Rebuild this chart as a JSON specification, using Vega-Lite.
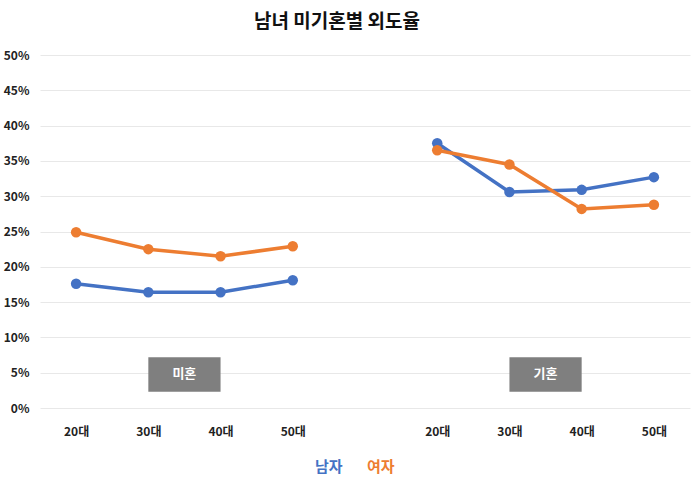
{
  "$schema": "https://vega.github.io/schema/vega-lite/v6.json",
  "width": 650,
  "height": 353,
  "autosize": "none",
  "padding": {"left": 40, "top": 55, "right": 10, "bottom": 79},
  "background": "white",
  "title": {
    "text": "남녀 미기혼별 외도율",
    "fontSize": 19,
    "fontWeight": "bold",
    "color": "#111111",
    "offset": 17,
    "dx": -28
  },
  "config": {
    "font": "Noto Sans CJK KR",
    "view": {"stroke": null},
    "axis": {
      "domain": false,
      "ticks": false,
      "labelFontWeight": "bold",
      "labelFontSize": 12,
      "labelColor": "#222222",
      "gridColor": "#e8e8e8",
      "title": null
    }
  },
  "data": {
    "values": [
      {"status": "미혼", "slot": "미혼 20대", "sex": "남자", "rate": 17.6},
      {"status": "미혼", "slot": "미혼 30대", "sex": "남자", "rate": 16.4},
      {"status": "미혼", "slot": "미혼 40대", "sex": "남자", "rate": 16.4},
      {"status": "미혼", "slot": "미혼 50대", "sex": "남자", "rate": 18.1},
      {"status": "미혼", "slot": "미혼 20대", "sex": "여자", "rate": 24.9},
      {"status": "미혼", "slot": "미혼 30대", "sex": "여자", "rate": 22.5},
      {"status": "미혼", "slot": "미혼 40대", "sex": "여자", "rate": 21.5},
      {"status": "미혼", "slot": "미혼 50대", "sex": "여자", "rate": 22.9},
      {"status": "기혼", "slot": "기혼 20대", "sex": "남자", "rate": 37.5},
      {"status": "기혼", "slot": "기혼 30대", "sex": "남자", "rate": 30.6},
      {"status": "기혼", "slot": "기혼 40대", "sex": "남자", "rate": 30.9},
      {"status": "기혼", "slot": "기혼 50대", "sex": "남자", "rate": 32.7},
      {"status": "기혼", "slot": "기혼 20대", "sex": "여자", "rate": 36.5},
      {"status": "기혼", "slot": "기혼 30대", "sex": "여자", "rate": 34.5},
      {"status": "기혼", "slot": "기혼 40대", "sex": "여자", "rate": 28.2},
      {"status": "기혼", "slot": "기혼 50대", "sex": "여자", "rate": 28.8}
    ]
  },
  "encoding": {
    "y": {
      "type": "quantitative",
      "scale": {"domain": [0, 50], "nice": false},
      "axis": {
        "values": [0, 5, 10, 15, 20, 25, 30, 35, 40, 45, 50],
        "labelExpr": "datum.value + '%'",
        "labelPadding": 11,
        "labelOverlap": false
      }
    }
  },
  "layer": [
    {
      "data": {
        "values": [
          {"label": "미혼", "from": "미혼 30대", "to": "미혼 40대", "lo": 2.3, "hi": 7.2},
          {"label": "기혼", "from": "기혼 30대", "to": "기혼 40대", "lo": 2.3, "hi": 7.2}
        ]
      },
      "mark": {"type": "rect", "color": "#7f7f7f"},
      "encoding": {
        "x": {
          "field": "from",
          "type": "nominal",
          "sort": null,
          "scale": {
            "type": "point",
            "domain": ["미혼 20대", "미혼 30대", "미혼 40대", "미혼 50대", "gap", "기혼 20대", "기혼 30대", "기혼 40대", "기혼 50대"],
            "padding": 0.5
          },
          "axis": {
            "labelAngle": 0,
            "labelPadding": 18,
            "labelExpr": "indexof(datum.label, ' ') > 0 ? split(datum.label, ' ')[1] : ''"
          }
        },
        "x2": {"field": "to"},
        "y": {"field": "lo"},
        "y2": {"field": "hi"}
      }
    },
    {
      "data": {
        "values": [
          {"label": "미혼", "from": "미혼 30대", "mid": 4.75},
          {"label": "기혼", "from": "기혼 30대", "mid": 4.75}
        ]
      },
      "mark": {"type": "text", "color": "white", "fontWeight": "bold", "fontSize": 13, "dx": 36},
      "encoding": {
        "x": {"field": "from", "type": "nominal"},
        "y": {"field": "mid"},
        "text": {"field": "label"}
      }
    },
    {
      "mark": {"type": "line", "strokeWidth": 3.5},
      "encoding": {
        "x": {"field": "slot", "type": "nominal"},
        "y": {"field": "rate"},
        "color": {
          "field": "sex",
          "type": "nominal",
          "scale": {"domain": ["남자", "여자"], "range": ["#4472C4", "#ED7D31"]},
          "legend": {
            "title": null,
            "orient": "none",
            "legendX": 256,
            "legendY": 404,
            "direction": "horizontal",
            "symbolSize": 0,
            "symbolOpacity": 0,
            "labelFontSize": 15,
            "labelFontWeight": "bold",
            "labelColor": {"expr": "datum.label == '남자' ? '#4472C4' : '#ED7D31'"},
            "columnPadding": 5
          }
        },
        "detail": {"field": "status"}
      }
    },
    {
      "mark": {"type": "point", "filled": true, "size": 110, "opacity": 1},
      "encoding": {
        "x": {"field": "slot", "type": "nominal"},
        "y": {"field": "rate"},
        "color": {"field": "sex", "type": "nominal"}
      }
    }
  ]
}
